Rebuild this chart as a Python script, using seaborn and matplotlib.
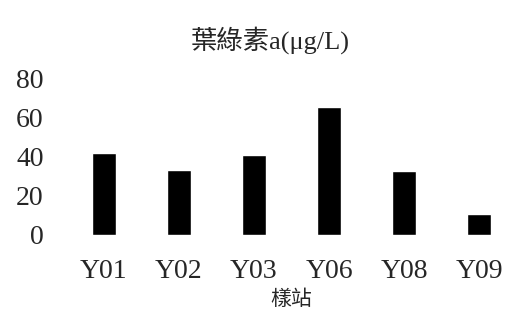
import matplotlib
matplotlib.use("Agg")
import matplotlib.pyplot as plt
import seaborn as sns
import pandas as pd

stations = ["Y01", "Y02", "Y03", "Y06", "Y08", "Y09"]
chla = [41.8, 33.1, 40.8, 65.4, 32.6, 10.5]
yticks = [0, 20, 40, 60, 80]

sns.set_theme(style="white")
plt.rcParams['font.family'] = ['Liberation Serif', 'Noto Sans CJK TC']

df = pd.DataFrame({"station": stations, "value": chla})

fig = plt.figure(figsize=(5.32, 3.23), dpi=100)
ax = fig.add_axes([66/532, 1-235/323, (517-66)/532, (235-78)/323])
sns.barplot(data=df, x="station", y="value", color="black", width=0.32,
            saturation=1, ax=ax)
ax.set_ylim(0, 80)
ax.set_xlim(-0.5, len(stations)-0.5)
ax.set_yticks(yticks)
ax.set_yticklabels([str(t) for t in yticks], fontsize=20)
ax.tick_params(axis='x', labelsize=20, length=0, pad=17)
ax.tick_params(axis='y', length=0, pad=16)
for s in ax.spines.values():
    s.set_visible(False)
ax.set_ylabel("")
ax.set_xlabel("樣站", fontsize=15, labelpad=5)
fig.text(270/532, 1-40/323, "葉綠素a(μg/L)", fontsize=19, ha="center", va="center")
fig.savefig("out.png", dpi=100, facecolor="white")
